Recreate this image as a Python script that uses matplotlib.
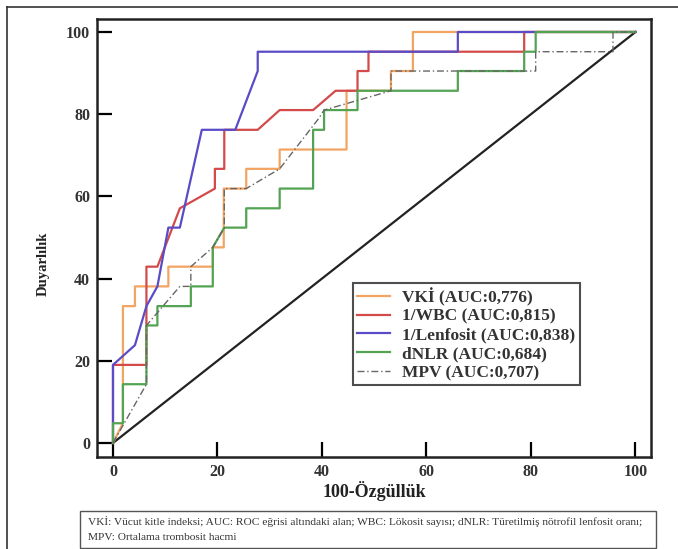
import matplotlib
matplotlib.use("Agg")
import matplotlib.pyplot as plt
from matplotlib.lines import Line2D
from matplotlib.patches import Rectangle

# ---- data (ROC curve vertices: 100-specificity, sensitivity) ----
vki_x = [0, 1.9, 1.9, 4.2, 4.2, 10.6, 10.6, 19.1, 19.1, 21.2, 21.2, 25.5, 25.5, 31.9, 31.9, 44.7, 44.7, 53.2, 53.2, 57.4, 57.4, 100]
vki_y = [0, 4.8, 33.3, 33.3, 38.1, 38.1, 42.9, 42.9, 47.6, 47.6, 61.9, 61.9, 66.7, 66.7, 71.4, 71.4, 85.7, 85.7, 90.5, 90.5, 100, 100]

wbc_x = [0, 0, 6.4, 6.4, 8.5, 12.8, 19.5, 19.5, 21.3, 21.3, 27.7, 31.9, 38.3, 42.6, 46.8, 46.8, 48.9, 48.9, 78.7, 78.7, 100]
wbc_y = [0, 19.0, 19.0, 42.9, 42.9, 57.1, 61.9, 66.7, 66.7, 76.2, 76.2, 81.0, 81.0, 85.7, 85.7, 90.5, 90.5, 95.2, 95.2, 100, 100]

lenf_x = [0, 0, 4.2, 6.4, 8.5, 10.6, 12.8, 17.0, 23.4, 27.7, 27.7, 66.0, 66.0, 100]
lenf_y = [0, 19.0, 23.8, 33.3, 38.1, 52.4, 52.4, 76.2, 76.2, 90.5, 95.2, 95.2, 100, 100]

dnlr_x = [0, 0, 1.9, 1.9, 6.4, 6.4, 8.5, 8.5, 14.9, 14.9, 19.1, 19.1, 21.3, 25.5, 25.5, 31.9, 31.9, 38.3, 38.3, 40.4, 40.4, 46.8, 46.8, 66.0, 66.0, 78.7, 78.7, 80.9, 80.9, 100]
dnlr_y = [0, 4.8, 4.8, 14.3, 14.3, 28.6, 28.6, 33.3, 33.3, 38.1, 38.1, 47.6, 52.4, 52.4, 57.1, 57.1, 61.9, 61.9, 76.2, 76.2, 81.0, 81.0, 85.7, 85.7, 90.5, 90.5, 95.2, 95.2, 100, 100]

mpv_x = [0, 6.4, 6.4, 12.8, 14.9, 14.9, 19.1, 21.3, 21.3, 25.5, 31.9, 39.4, 40.4, 53.2, 53.2, 66.0, 80.9, 80.9, 95.7, 95.7, 100]
mpv_y = [0, 14.3, 28.6, 38.1, 38.1, 42.9, 47.6, 52.4, 61.9, 61.9, 66.7, 79.0, 81.0, 85.7, 90.5, 90.5, 90.5, 95.2, 95.2, 100, 100]

labels = ["VKİ (AUC:0,776)", "1/WBC (AUC:0,815)", "1/Lenfosit (AUC:0,838)",
          "dNLR (AUC:0,684)", "MPV (AUC:0,707)"]
ticks = [0, 20, 40, 60, 80, 100]
footnote = ["VKİ: Vücut kitle indeksi; AUC: ROC eğrisi altındaki alan; WBC: Lökosit sayısı; dNLR: Türetilmiş nötrofil lenfosit oranı;",
            "MPV: Ortalama trombosit hacmi"]

serif = ["Liberation Serif", "DejaVu Serif"]

fig = plt.figure(figsize=(6.78, 5.49), dpi=100)
ax = fig.add_axes([97/678, 1-457/549, (651-97)/678, (457-19)/549])

# chance line
ax.plot([0, 100], [0, 100], color="#222222", lw=1.6, zorder=1)

series = [
    (vki_x, vki_y, "#F2A463", "-"),
    (wbc_x, wbc_y, "#D24A4A", "-"),
    (lenf_x, lenf_y, "#5A4CC6", "-"),
    (dnlr_x, dnlr_y, "#52A352", "-"),
    (mpv_x, mpv_y, "#666666", (0, (5, 2, 1, 2))),
]
handles = []
for (xs, ys, c, ls), lab in zip(series, labels):
    lw = 1.0 if ls != "-" else 1.6
    h, = ax.plot(xs, ys, color=c, lw=lw, ls=ls, label=lab, zorder=2)
    handles.append(h)

ax.set_xlim(-3.06, 102.97)
ax.set_ylim(-3.41, 103.16)
ax.set_xticks(ticks)
ax.set_yticks(ticks)
ax.tick_params(direction="in", length=11, width=1.6, pad=5, labelsize=11.5)
for lab in ax.get_xticklabels() + ax.get_yticklabels():
    lab.set_family(serif)
    lab.set_fontweight("bold")
    lab.set_color("#333333")
for s in ax.spines.values():
    s.set_linewidth(1.8)
    s.set_color("#222222")

ax.set_xlabel("100-Özgüllük", family=serif, fontweight="bold", fontsize=13, labelpad=1, color="#222222")
ax.set_ylabel("Duyarlılık", family=serif, fontweight="bold", fontsize=10.5, color="#222222")
ax.yaxis.set_label_coords(-0.085, 0.44)

leg = ax.legend(handles=handles, loc="upper left", bbox_to_anchor=(0.462, 0.397),
                prop={"family": serif, "weight": "bold", "size": 12.5},
                frameon=True, fancybox=False, edgecolor="#222222", handlelength=1.9,
                handletextpad=0.7, labelspacing=0.15, borderpad=0.25, borderaxespad=0)
leg.get_frame().set_linewidth(1.5)
for t in leg.get_texts():
    t.set_color("#333333")

# footnote box
fig.patches.append(Rectangle((80/678, 1-548/549), (656-80)/678, (548-511)/549,
                             transform=fig.transFigure, fill=False, ec="#555555", lw=1.0))
fig.text(88/678, 1-522/549, footnote[0], family=serif, fontsize=8.2, va="center", color="#333333")
fig.text(88/678, 1-537/549, footnote[1], family=serif, fontsize=8.2, va="center", color="#333333")

# outer frame (top and left edges)
fig.add_artist(Line2D([7/678, 7/678], [0, 1-7/549], transform=fig.transFigure, color="#333333", lw=1.2))
fig.add_artist(Line2D([7/678, 1], [1-7/549, 1-7/549], transform=fig.transFigure, color="#333333", lw=1.2))

fig.savefig("out.png", dpi=100)
